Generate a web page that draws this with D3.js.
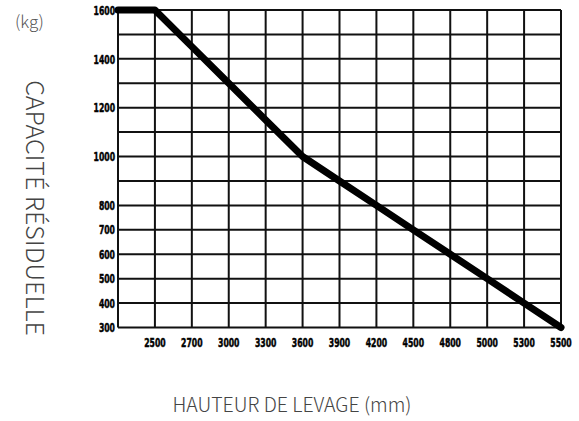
<!DOCTYPE html>
<html><head><meta charset="utf-8">
<script src="https://cdn.jsdelivr.net/npm/d3@7"></script>
<style>
body{margin:0;background:#fff;}
svg{display:block;}
</style></head>
<body>
<svg id="c" width="579" height="421"></svg>
<script>
const xCategories = ["", "2500", "2700", "3000", "3300", "3600", "3900", "4200", "4500", "4800", "5000", "5300", "5500"];
const capacity = [1600, 1600, 1450, 1300, 1150, 1000, 900, 800, 700, 600, 500, 400, 300];
const yTickLabels = [300, 400, 500, 600, 700, 800, 1000, 1200, 1400, 1600];
const yGridValues = d3.range(300, 1601, 100);

(function () {
const svg = d3.select("#c");
const pL = 118, pR = 561, pT = 10, pB = 327.5;

const x = d3.scalePoint().domain(xCategories.map((d, i) => i)).range([pL, pR]);
const y = d3.scaleLinear().domain([300, 1600]).range([pB, pT]);

const tickFont = "'DejaVu Sans Condensed', 'DejaVu Sans', sans-serif";
const sx = 0.66;

svg.append("g").selectAll("line").data(yGridValues).join("line")
  .attr("x1", pL).attr("x2", pR)
  .attr("y1", d => y(d)).attr("y2", d => y(d))
  .attr("stroke", "#111").attr("stroke-width", 2);

svg.append("g").selectAll("line").data(xCategories.map((d, i) => i)).join("line")
  .attr("x1", d => x(d)).attr("x2", d => x(d))
  .attr("y1", pT).attr("y2", pB)
  .attr("stroke", "#111").attr("stroke-width", 2);

svg.append("g").selectAll("text").data(yTickLabels).join("text")
  .attr("transform", d => `translate(${pL - 3},${y(d)}) scale(${sx},1)`)
  .attr("dy", "0.36em")
  .attr("text-anchor", "end")
  .attr("font-family", tickFont).attr("font-weight", "bold").attr("font-size", 13)
  .attr("fill", "#000").attr("stroke", "#000").attr("stroke-width", 0.5)
  .text(d => d);

svg.append("g").selectAll("text").data(xCategories.map((d, i) => i).filter(i => xCategories[i] !== "")).join("text")
  .attr("transform", d => `translate(${x(d)},347) scale(${sx},1)`)
  .attr("text-anchor", "middle")
  .attr("font-family", tickFont).attr("font-weight", "bold").attr("font-size", 13)
  .attr("fill", "#000").attr("stroke", "#000").attr("stroke-width", 0.5)
  .text(d => xCategories[d]);

const line = d3.line().x((d, i) => x(i)).y(d => y(d));
svg.append("path").datum(capacity)
  .attr("d", line)
  .attr("fill", "none").attr("stroke", "#000").attr("stroke-width", 7)
  .attr("stroke-linejoin", "round").attr("stroke-linecap", "round");

const titleFont = "'Noto Sans CJK JP', 'Noto Sans', sans-serif";
svg.append("text").attr("x", 15).attr("y", 28)
  .attr("font-family", titleFont).attr("font-weight", 300).attr("font-size", 17)
  .attr("fill", "#555").text("(kg)");

svg.append("text")
  .attr("transform", "translate(26,208) rotate(90)")
  .attr("text-anchor", "middle")
  .attr("font-family", titleFont).attr("font-weight", 300).attr("font-size", 25)
  .attr("fill", "#444").text("CAPACITÉ RÉSIDUELLE");

svg.append("text").attr("x", 292).attr("y", 412)
  .attr("text-anchor", "middle")
  .attr("font-family", titleFont).attr("font-weight", 300).attr("font-size", 19.5)
  .attr("fill", "#444").text("HAUTEUR DE LEVAGE (mm)");
})();
</script>
</body></html>
